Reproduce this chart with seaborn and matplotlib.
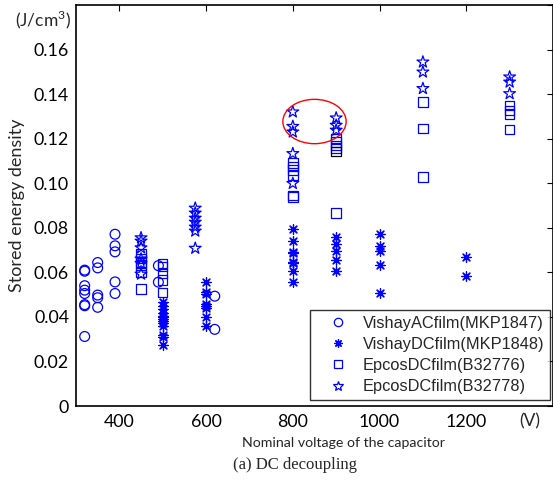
import matplotlib
matplotlib.use("Agg")
import matplotlib.pyplot as plt
import seaborn as sns
import pandas as pd
from matplotlib.lines import Line2D
from matplotlib.patches import Ellipse

# ---------------- data ----------------
ac_v = [320]*8 + [350]*5 + [390]*5 + [490]*2 + [620]*2
ac_e = [0.0610, 0.0605, 0.0540, 0.0520, 0.0505, 0.0455, 0.0450, 0.0312,
        0.0644, 0.0620, 0.0498, 0.0486, 0.0443,
        0.0771, 0.0719, 0.0692, 0.0557, 0.0505,
        0.0630, 0.0556,
        0.0493, 0.0344]

dc_v = [500]*13 + [600]*8 + [800]*8 + [900]*5 + [1000]*5 + [1200]*2
dc_e = [0.0468, 0.0448, 0.0434, 0.0416, 0.0404, 0.0398, 0.0389, 0.0381, 0.0371, 0.0359, 0.0318, 0.0308, 0.0274,
        0.0557, 0.0513, 0.0502, 0.0457, 0.0448, 0.0438, 0.0400, 0.0360,
        0.0794, 0.0741, 0.0692, 0.0685, 0.0647, 0.0640, 0.0607, 0.0555,
        0.0757, 0.0726, 0.0695, 0.0655, 0.0607,
        0.0771, 0.0719, 0.0695, 0.0635, 0.0505,
        0.0667, 0.0584]

b76_v = [450]*6 + [500]*5 + [800]*6 + [900]*5 + [1100]*3 + [1300]*4
b76_e = [0.0685, 0.0662, 0.0647, 0.0632, 0.0598, 0.0525,
         0.0640, 0.0625, 0.0595, 0.0565, 0.0510,
         0.1090, 0.1075, 0.1060, 0.1036, 0.0946, 0.0939,
         0.1200, 0.1185, 0.1170, 0.1156, 0.0867,
         0.1365, 0.1245, 0.1028,
         0.1350, 0.1327, 0.1310, 0.1241]

black_v = [900]
black_e = [0.1142]

b78_v = [450]*6 + [575]*7 + [800]*5 + [900]*3 + [1100]*3 + [1300]*3
b78_e = [0.0755, 0.0740, 0.0710, 0.0660, 0.0640, 0.0592,
         0.0888, 0.0866, 0.0843, 0.0825, 0.0803, 0.0785, 0.0708,
         0.1320, 0.1255, 0.1230, 0.1133, 0.0999,
         0.1293, 0.1260, 0.1238,
         0.1544, 0.1499, 0.1425,
         0.1477, 0.1454, 0.1402]

series_names = ["VishayACfilm(MKP1847)", "VishayDCfilm(MKP1848)",
                "EpcosDCfilm(B32776)", "EpcosDCfilm(B32778)"]

x_ticks = [400, 600, 800, 1000, 1200]
x_ticklabels = ["400", "600", "800", "1000", "1200"]
y_ticks = [0, 0.02, 0.04, 0.06, 0.08, 0.10, 0.12, 0.14, 0.16, 0.18]
y_ticklabels = ["0", "0.02", "0.04", "0.06", "0.08", "0.10", "0.12", "0.14", "0.16", ""]

# ---------------- style ----------------
sns.set_style("white")
plt.rcParams["font.family"] = ["Lato", "DejaVu Sans"]
plt.rcParams["mathtext.fontset"] = "custom"
plt.rcParams["mathtext.rm"] = "Lato"

BLUE = "#0000FF"
ASTER = (8, 2, 0)

fig = plt.figure(figsize=(5.53, 4.90), dpi=100)
ax = fig.add_axes([76/553, 84/490, 477/553, 401/490])

df_ac = pd.DataFrame({"v": ac_v, "e": ac_e})
df_dc = pd.DataFrame({"v": dc_v, "e": dc_e})
df_76 = pd.DataFrame({"v": b76_v, "e": b76_e})
df_bk = pd.DataFrame({"v": black_v, "e": black_e})
df_78 = pd.DataFrame({"v": b78_v, "e": b78_e})

sns.scatterplot(data=df_ac, x="v", y="e", ax=ax, marker="o", s=50,
                facecolors="none", edgecolor=BLUE, linewidth=0.9, legend=False)
sns.scatterplot(data=df_dc, x="v", y="e", ax=ax, marker=ASTER, s=48,
                color=BLUE, edgecolor=BLUE, linewidth=0.9, legend=False)
sns.scatterplot(data=df_76, x="v", y="e", ax=ax, marker="s", s=46,
                facecolors="none", edgecolor=BLUE, linewidth=0.9, legend=False)
sns.scatterplot(data=df_bk, x="v", y="e", ax=ax, marker="s", s=46,
                facecolors="none", edgecolor="black", linewidth=0.9, legend=False)
sns.scatterplot(data=df_78, x="v", y="e", ax=ax, marker="*", s=80,
                facecolors="none", edgecolor=BLUE, linewidth=0.9, legend=False)

ax.add_patch(Ellipse((850, 0.1277), 146, 0.0199, fill=False,
                     edgecolor="red", linewidth=1.0, zorder=5))

ax.set_xlim(300, 1400)
ax.set_ylim(0, 0.18)
ax.set_xticks(x_ticks)
ax.set_xticklabels(x_ticklabels)
ax.set_yticks(y_ticks)
ax.set_yticklabels(y_ticklabels)
ax.tick_params(direction="in", length=4, width=0.8, top=True, right=True,
               labelsize=12.8, colors="black", pad=5)
ax.tick_params(axis="x", pad=6)
for sp in ax.spines.values():
    sp.set_visible(True)
    sp.set_color("black")
    sp.set_linewidth(1.2)

ax.set_xlabel("")
ax.set_ylabel("Stored energy density", fontsize=13, labelpad=6)

fig.text(343/553, 1 - 443/490, "Nominal voltage of the capacitor",
         ha="center", va="center", fontsize=10.2)
fig.text(295/553, 1 - 465/490, "(a) DC decoupling", ha="center", va="center",
         fontsize=12, family=["Liberation Serif", "DejaVu Serif"])
fig.text(43/553, 1 - 20/490, "(J/cm$^3$)", ha="center", va="center", fontsize=12.5)
fig.text(530/553, 1 - 421/490, "(V)", ha="center", va="center", fontsize=12.5)

handles = [
    Line2D([], [], ls="none", marker="o", mfc="none", mec=BLUE, ms=6, mew=0.9),
    Line2D([], [], ls="none", marker=ASTER, color=BLUE, ms=6, mew=0.9),
    Line2D([], [], ls="none", marker="s", mfc="none", mec=BLUE, ms=6, mew=0.9),
    Line2D([], [], ls="none", marker="*", mfc="none", mec=BLUE, ms=7, mew=0.9),
]
leg = ax.legend(handles, series_names, loc="lower right",
                bbox_to_anchor=(0.994, 0.015), borderaxespad=0,
                prop={"family": ["Liberation Sans", "DejaVu Sans"], "size": 11.8},
                frameon=True, fancybox=False, edgecolor="black",
                handlelength=2.7, handletextpad=0.15, labelspacing=0.38,
                borderpad=0.35)
leg.get_frame().set_linewidth(1.0)

fig.savefig("out.png", dpi=100)
